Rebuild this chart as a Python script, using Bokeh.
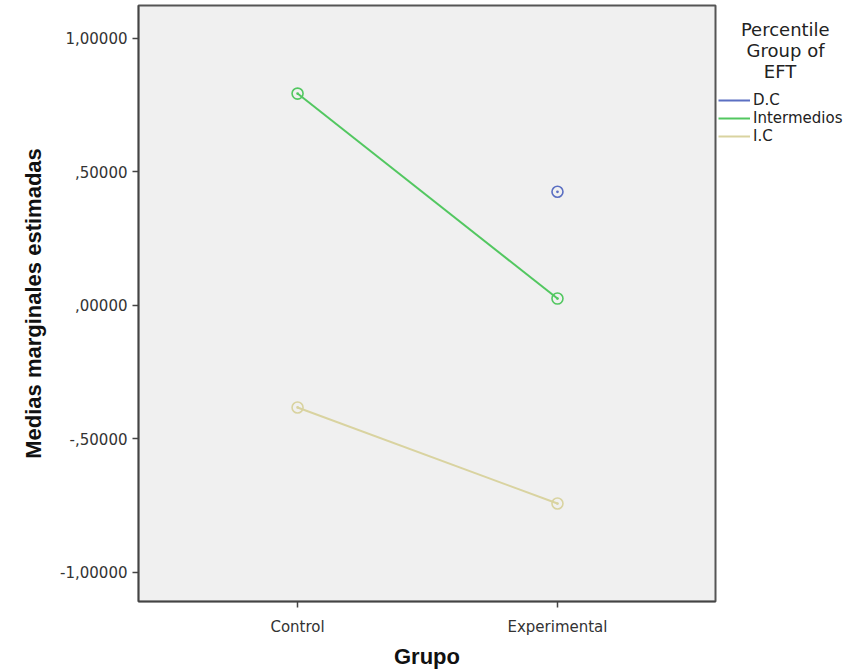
from bokeh.plotting import figure
from bokeh.models import (FixedTicker, Range1d, Legend, LegendItem,
                          ColumnDataSource)
from bokeh.embed import file_html
from bokeh.resources import INLINE

# Estimated marginal means by group and EFT percentile group
grupos = ["Control", "Experimental"]
grupo_pos = [0, 1]
series_names = ["D.C", "Intermedios", "I.C"]
dc_vals = [float("nan"), 0.425]
intermedios_vals = [0.793, 0.025]
ic_vals = [-0.383, -0.743]
series_colors = ["#5b6fc2", "#52c760", "#d9d3a0"]

y_ticks = [-1.0, -0.5, 0.0, 0.5, 1.0]
y_tick_labels = ["-1,00000", "-,50000", ",00000", ",50000", "1,00000"]

p = figure(frame_width=577, frame_height=596, output_backend="svg",
           toolbar_location=None,
           x_range=Range1d(-0.612, 1.608), y_range=Range1d(-1.11, 1.123),
           min_border_left=138, min_border_right=0, min_border_top=5,
           min_border_bottom=71)
p.background_fill_color = "#f0f0f0"
p.border_fill_color = "white"
p.outline_line_color = "#555555"
p.outline_line_width = 2
p.grid.visible = False

tick_font = "DejaVu Sans"
for ax in (p.xaxis, p.yaxis):
    ax.axis_line_color = "#444444"
    ax.axis_line_width = 1.5
    ax.major_tick_line_color = "#444444"
    ax.major_tick_line_width = 1.5
    ax.major_tick_in = 0
    ax.major_tick_out = 6
    ax.minor_tick_line_color = None
    ax.major_label_text_font = tick_font
    ax.major_label_text_font_size = "15px"
    ax.major_label_text_color = "#333333"
    ax.axis_label_text_font = "Liberation Sans"
    ax.axis_label_text_font_style = "bold"
    ax.axis_label_text_font_size = "22px"
    ax.axis_label_text_color = "#111111"

p.xaxis.ticker = FixedTicker(ticks=grupo_pos)
p.xaxis.major_label_overrides = {pos: name for pos, name in zip(grupo_pos, grupos)}
p.xaxis.axis_label = "Grupo"
p.xaxis.major_label_standoff = 10
p.xaxis.axis_label_standoff = 5

p.yaxis.ticker = FixedTicker(ticks=y_ticks)
p.yaxis.major_label_overrides = {t: s for t, s in zip(y_ticks, y_tick_labels)}
p.yaxis.axis_label = "Medias marginales estimadas"
p.yaxis.major_label_standoff = 5
p.yaxis.axis_label_standoff = 11

items = []
for name, vals, color in zip(series_names, [dc_vals, intermedios_vals, ic_vals],
                             series_colors):
    src = ColumnDataSource(dict(x=grupo_pos, y=vals))
    ln = p.line("x", "y", source=src, line_color=color, line_width=2)
    p.scatter("x", "y", source=src, marker="circle_dot", size=11,
              line_color=color, line_width=1.6, fill_color=None)
    items.append(LegendItem(label=name, renderers=[ln]))

# legend title lines, indented with no-break spaces to sit centred
nb = "\u00a0"
legend_title = "\n".join([nb * 4 + "Percentile", nb * 5 + "Group of", nb * 8 + "EFT"])

legend = Legend(items=items, location=(3, 456), orientation="vertical",
                title=legend_title,
                title_text_font=tick_font, title_text_font_size="18px",
                title_text_font_style="normal", title_text_color="#222222",
                title_text_line_height=1.17, title_standoff=9,
                background_fill_alpha=0, border_line_color=None,
                glyph_width=32, glyph_height=18, label_height=18,
                label_width=90,
                label_standoff=3, spacing=0, padding=0, margin=0,
                label_text_font=tick_font, label_text_font_size="15px",
                label_text_color="#222222")
p.add_layout(legend, "right")

open("out.html", "w").write(file_html(p, INLINE))
